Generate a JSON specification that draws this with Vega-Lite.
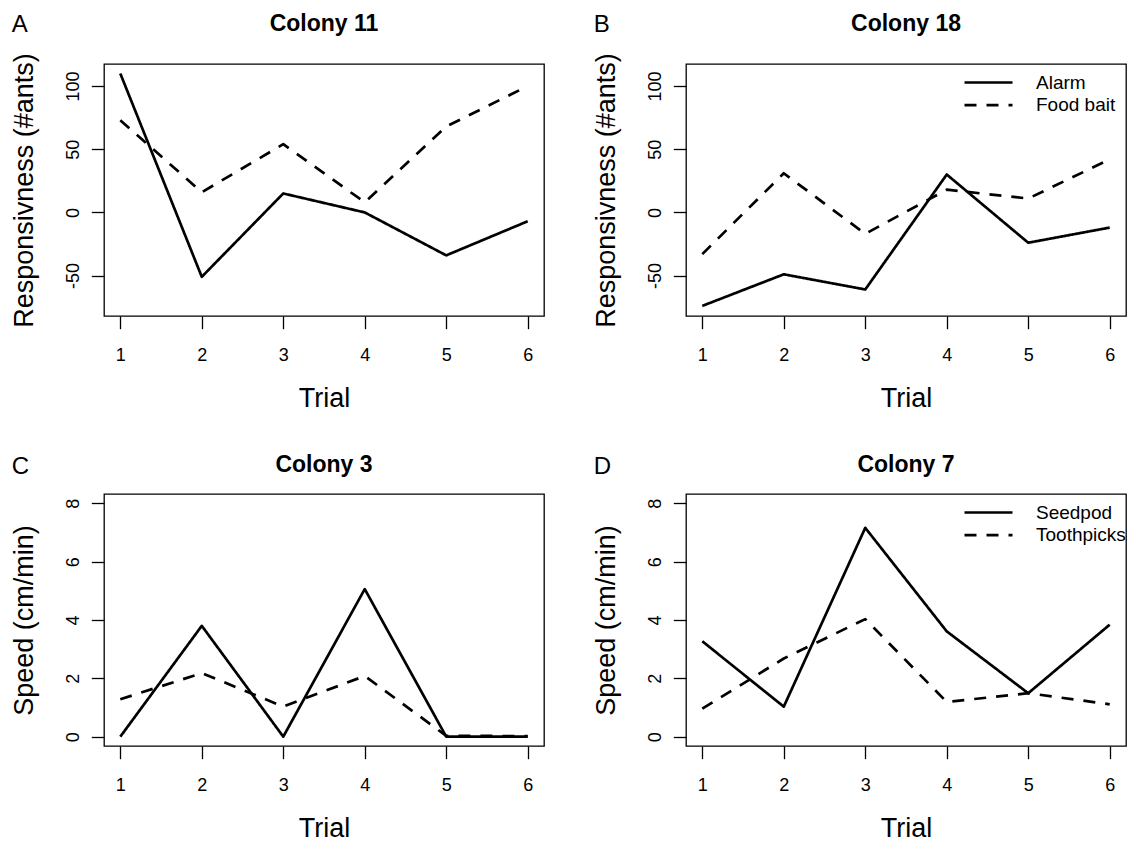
{
  "$schema": "https://vega.github.io/schema/vega-lite/v6.json",
  "background": "white",
  "padding": {"left": 9, "top": 12, "right": 0, "bottom": 0},
  "datasets": {
    "d": [
      {"panel": "A", "series": "Alarm", "trial": 1, "value": 110},
      {"panel": "A", "series": "Alarm", "trial": 2, "value": -51},
      {"panel": "A", "series": "Alarm", "trial": 3, "value": 15},
      {"panel": "A", "series": "Alarm", "trial": 4, "value": 0},
      {"panel": "A", "series": "Alarm", "trial": 5, "value": -34},
      {"panel": "A", "series": "Alarm", "trial": 6, "value": -7},
      {"panel": "A", "series": "Food bait", "trial": 1, "value": 73},
      {"panel": "A", "series": "Food bait", "trial": 2, "value": 16},
      {"panel": "A", "series": "Food bait", "trial": 3, "value": 54},
      {"panel": "A", "series": "Food bait", "trial": 4, "value": 8},
      {"panel": "A", "series": "Food bait", "trial": 5, "value": 68},
      {"panel": "A", "series": "Food bait", "trial": 6, "value": 100},
      {"panel": "B", "series": "Alarm", "trial": 1, "value": -74},
      {"panel": "B", "series": "Alarm", "trial": 2, "value": -49},
      {"panel": "B", "series": "Alarm", "trial": 3, "value": -61},
      {"panel": "B", "series": "Alarm", "trial": 4, "value": 30},
      {"panel": "B", "series": "Alarm", "trial": 5, "value": -24},
      {"panel": "B", "series": "Alarm", "trial": 6, "value": -12},
      {"panel": "B", "series": "Food bait", "trial": 1, "value": -33},
      {"panel": "B", "series": "Food bait", "trial": 2, "value": 31},
      {"panel": "B", "series": "Food bait", "trial": 3, "value": -17},
      {"panel": "B", "series": "Food bait", "trial": 4, "value": 18},
      {"panel": "B", "series": "Food bait", "trial": 5, "value": 11},
      {"panel": "B", "series": "Food bait", "trial": 6, "value": 42},
      {"panel": "C", "series": "Seedpod", "trial": 1, "value": 0},
      {"panel": "C", "series": "Seedpod", "trial": 2, "value": 3.8},
      {"panel": "C", "series": "Seedpod", "trial": 3, "value": 0},
      {"panel": "C", "series": "Seedpod", "trial": 4, "value": 5.06},
      {"panel": "C", "series": "Seedpod", "trial": 5, "value": 0},
      {"panel": "C", "series": "Seedpod", "trial": 6, "value": 0},
      {"panel": "C", "series": "Toothpicks", "trial": 1, "value": 1.28},
      {"panel": "C", "series": "Toothpicks", "trial": 2, "value": 2.18},
      {"panel": "C", "series": "Toothpicks", "trial": 3, "value": 1.03},
      {"panel": "C", "series": "Toothpicks", "trial": 4, "value": 2.08},
      {"panel": "C", "series": "Toothpicks", "trial": 5, "value": 0.03},
      {"panel": "C", "series": "Toothpicks", "trial": 6, "value": 0.02},
      {"panel": "D", "series": "Seedpod", "trial": 1, "value": 3.27},
      {"panel": "D", "series": "Seedpod", "trial": 2, "value": 1.03},
      {"panel": "D", "series": "Seedpod", "trial": 3, "value": 7.16},
      {"panel": "D", "series": "Seedpod", "trial": 4, "value": 3.61},
      {"panel": "D", "series": "Seedpod", "trial": 5, "value": 1.49},
      {"panel": "D", "series": "Seedpod", "trial": 6, "value": 3.84},
      {"panel": "D", "series": "Toothpicks", "trial": 1, "value": 0.96},
      {"panel": "D", "series": "Toothpicks", "trial": 2, "value": 2.68},
      {"panel": "D", "series": "Toothpicks", "trial": 3, "value": 4.03},
      {"panel": "D", "series": "Toothpicks", "trial": 4, "value": 1.19},
      {"panel": "D", "series": "Toothpicks", "trial": 5, "value": 1.49},
      {"panel": "D", "series": "Toothpicks", "trial": 6, "value": 1.11}
    ]
  },
  "columns": 2,
  "spacing": {"row": 40, "column": 46},
  "resolve": {"scale": {"strokeDash": "independent"}, "legend": {"strokeDash": "independent"}},
  "concat": [
    {
      "title": {"text": "A", "anchor": "start", "frame": "bounds", "fontSize": 24, "fontWeight": "normal", "baseline": "alphabetic", "offset": -44, "dx": 2},
      "resolve": {"scale": {"strokeDash": "independent"}, "legend": {"strokeDash": "independent"}},
      "vconcat": [
        {
          "width": 440, "height": 252,
          "title": {"text": "Colony 11", "fontSize": 23, "fontWeight": "bold", "anchor": "middle", "frame": "group", "baseline": "alphabetic", "offset": -1.4},
          "data": {"name": "d"},
          "transform": [{"filter": "datum.panel === 'A'"}],
          "mark": {"type": "line", "color": "black", "strokeWidth": 2.7, "strokeJoin": "round"},
          "encoding": {
            "x": {"field": "trial", "type": "quantitative", "scale": {"domain": [0.8, 6.2], "nice": false, "zero": false}, "axis": {"values": [1, 2, 3, 4, 5, 6], "title": "Trial"}},
            "y": {"field": "value", "type": "quantitative", "scale": {"domain": [-82, 117.5], "nice": false, "zero": false}, "axis": {"values": [-50, 0, 50, 100], "title": "Responsivness (#ants)", "labelExpr": "'' + datum.value", "labelAngle": 270, "labelAlign": "center", "labelBaseline": "alphabetic", "labelPadding": 13, "titleAngle": 270, "titleBaseline": "alphabetic", "titleX": -71.5}},
            "strokeDash": {"field": "series", "type": "nominal", "scale": {"domain": ["Alarm", "Food bait"], "range": [[1, 0], [12, 10]]}, "legend": null}
          }
        }
      ]
    },
    {
      "title": {"text": "B", "anchor": "start", "frame": "bounds", "fontSize": 24, "fontWeight": "normal", "baseline": "alphabetic", "offset": -44, "dx": 2},
      "resolve": {"scale": {"strokeDash": "independent"}, "legend": {"strokeDash": "independent"}},
      "vconcat": [
        {
          "width": 440, "height": 252,
          "title": {"text": "Colony 18", "fontSize": 23, "fontWeight": "bold", "anchor": "middle", "frame": "group", "baseline": "alphabetic", "offset": -1.4},
          "data": {"name": "d"},
          "transform": [{"filter": "datum.panel === 'B'"}],
          "mark": {"type": "line", "color": "black", "strokeWidth": 2.7, "strokeJoin": "round"},
          "encoding": {
            "x": {"field": "trial", "type": "quantitative", "scale": {"domain": [0.8, 6.2], "nice": false, "zero": false}, "axis": {"values": [1, 2, 3, 4, 5, 6], "title": "Trial"}},
            "y": {"field": "value", "type": "quantitative", "scale": {"domain": [-82, 117.5], "nice": false, "zero": false}, "axis": {"values": [-50, 0, 50, 100], "title": "Responsivness (#ants)", "labelExpr": "'' + datum.value", "labelAngle": 270, "labelAlign": "center", "labelBaseline": "alphabetic", "labelPadding": 13, "titleAngle": 270, "titleBaseline": "alphabetic", "titleX": -71.5}},
            "strokeDash": {"field": "series", "type": "nominal", "scale": {"domain": ["Alarm", "Food bait"], "range": [[1, 0], [12, 10]]},
              "legend": {"orient": "none", "legendX": 293, "legendY": 9, "title": null, "symbolType": "M-4,0H4", "symbolSize": 144, "symbolStrokeWidth": 2.7, "symbolStrokeColor": "black", "labelFontSize": 19, "labelFont": "Liberation Sans", "labelColor": "black", "labelOffset": 38, "rowPadding": 2.7, "padding": 0}}
          }
        }
      ]
    },
    {
      "title": {"text": "C", "anchor": "start", "frame": "bounds", "fontSize": 24, "fontWeight": "normal", "baseline": "alphabetic", "offset": -44, "dx": 2},
      "resolve": {"scale": {"strokeDash": "independent"}, "legend": {"strokeDash": "independent"}},
      "vconcat": [
        {
          "width": 440, "height": 252,
          "title": {"text": "Colony 3", "fontSize": 23, "fontWeight": "bold", "anchor": "middle", "frame": "group", "baseline": "alphabetic", "offset": -1.4},
          "data": {"name": "d"},
          "transform": [{"filter": "datum.panel === 'C'"}],
          "mark": {"type": "line", "color": "black", "strokeWidth": 2.7, "strokeJoin": "round"},
          "encoding": {
            "x": {"field": "trial", "type": "quantitative", "scale": {"domain": [0.8, 6.2], "nice": false, "zero": false}, "axis": {"values": [1, 2, 3, 4, 5, 6], "title": "Trial"}},
            "y": {"field": "value", "type": "quantitative", "scale": {"domain": [-0.32, 8.32], "nice": false, "zero": false}, "axis": {"values": [0, 2, 4, 6, 8], "title": "Speed (cm/min)", "labelExpr": "'' + datum.value", "labelAngle": 270, "labelAlign": "center", "labelBaseline": "alphabetic", "labelPadding": 13, "titleAngle": 270, "titleBaseline": "alphabetic", "titleX": -71.5}},
            "strokeDash": {"field": "series", "type": "nominal", "scale": {"domain": ["Seedpod", "Toothpicks"], "range": [[1, 0], [12, 10]]}, "legend": null}
          }
        }
      ]
    },
    {
      "title": {"text": "D", "anchor": "start", "frame": "bounds", "fontSize": 24, "fontWeight": "normal", "baseline": "alphabetic", "offset": -44, "dx": 2},
      "resolve": {"scale": {"strokeDash": "independent"}, "legend": {"strokeDash": "independent"}},
      "vconcat": [
        {
          "width": 440, "height": 252,
          "title": {"text": "Colony 7", "fontSize": 23, "fontWeight": "bold", "anchor": "middle", "frame": "group", "baseline": "alphabetic", "offset": -1.4},
          "data": {"name": "d"},
          "transform": [{"filter": "datum.panel === 'D'"}],
          "mark": {"type": "line", "color": "black", "strokeWidth": 2.7, "strokeJoin": "round"},
          "encoding": {
            "x": {"field": "trial", "type": "quantitative", "scale": {"domain": [0.8, 6.2], "nice": false, "zero": false}, "axis": {"values": [1, 2, 3, 4, 5, 6], "title": "Trial"}},
            "y": {"field": "value", "type": "quantitative", "scale": {"domain": [-0.32, 8.32], "nice": false, "zero": false}, "axis": {"values": [0, 2, 4, 6, 8], "title": "Speed (cm/min)", "labelExpr": "'' + datum.value", "labelAngle": 270, "labelAlign": "center", "labelBaseline": "alphabetic", "labelPadding": 13, "titleAngle": 270, "titleBaseline": "alphabetic", "titleX": -71.5}},
            "strokeDash": {"field": "series", "type": "nominal", "scale": {"domain": ["Seedpod", "Toothpicks"], "range": [[1, 0], [12, 10]]},
              "legend": {"orient": "none", "legendX": 293, "legendY": 9, "title": null, "symbolType": "M-4,0H4", "symbolSize": 144, "symbolStrokeWidth": 2.7, "symbolStrokeColor": "black", "labelFontSize": 19, "labelFont": "Liberation Sans", "labelColor": "black", "labelOffset": 38, "rowPadding": 2.7, "padding": 0}}
          }
        }
      ]
    }
  ],
  "config": {
    "font": "Liberation Sans",
    "view": {"stroke": "black", "strokeWidth": 1.3},
    "title": {"font": "Liberation Sans", "color": "black"},
    "axis": {"domain": false, "grid": false, "tickColor": "black", "tickWidth": 1.3, "tickSize": 12.7, "labelColor": "black", "labelFontSize": 18, "labelFont": "Liberation Sans", "labelFlush": false, "titleFont": "Liberation Sans", "titleFontSize": 27, "titleFontWeight": "normal", "titleColor": "black"},
    "axisX": {"labelBaseline": "alphabetic", "labelPadding": 32, "titleBaseline": "alphabetic", "titleY": 90.7}
  }
}
